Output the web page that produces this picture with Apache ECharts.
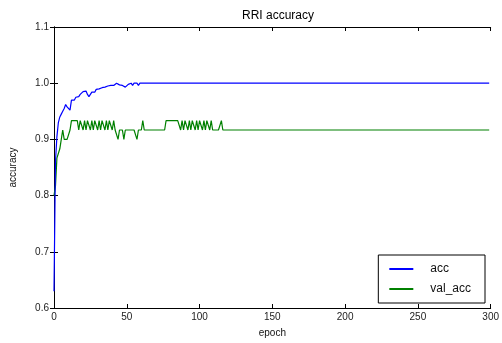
<!DOCTYPE html>
<html><head><meta charset="utf-8">
<script src="https://cdn.jsdelivr.net/npm/echarts@6/dist/echarts.min.js"></script>
<style>html,body{margin:0;padding:0;background:#fff}#c{width:502px;height:343px}</style>
</head><body><div id="c"></div>
<script>
// training accuracy, epochs 0..63 (then plateau)
const accValues = [
0.630, 0.860, 0.905, 0.930, 0.940, 0.945, 0.950, 0.955, 0.962, 0.958,
0.960, 0.952, 0.970, 0.972, 0.970, 0.975, 0.978, 0.976, 0.980, 0.982,
0.985, 0.982, 0.986, 0.980, 0.976, 0.978, 0.984, 0.986, 0.984, 0.989,
0.986, 0.990, 0.988, 0.992, 0.990, 0.993, 0.992, 0.995, 0.993, 0.996,
0.995, 0.996, 0.999, 1.000, 0.998, 0.997, 0.997, 0.996, 0.996, 0.993,
0.994, 0.998, 0.997, 1.000, 0.996, 1.000, 0.997, 1.000, 0.996, 1.000,
0.997, 1.000, 0.998, 1.000
];
// validation accuracy, epochs 0..116 (then plateau)
const valAccValues = [
0.8000, 0.8167, 0.8667, 0.8667, 0.8833, 0.9000, 0.9167, 0.9000, 0.9000, 0.9000,
0.9000, 0.9167, 0.9333, 0.9333, 0.9333, 0.9333, 0.9333, 0.9167, 0.9333, 0.9333,
0.9167, 0.9333, 0.9167, 0.9333, 0.9333, 0.9167, 0.9333, 0.9167, 0.9333, 0.9333,
0.9167, 0.9333, 0.9167, 0.9333, 0.9333, 0.9167, 0.9333, 0.9167, 0.9333, 0.9333,
0.9167, 0.9333, 0.9167, 0.9167, 0.9000, 0.9167, 0.9167, 0.9167, 0.9000, 0.9167,
0.9167, 0.9167, 0.9167, 0.9167, 0.9167, 0.9167, 0.9167, 0.9000, 0.9167, 0.9167,
0.9167, 0.9333, 0.9167, 0.9167, 0.9167, 0.9167, 0.9167, 0.9167, 0.9167, 0.9167,
0.9167, 0.9167, 0.9167, 0.9167, 0.9167, 0.9167, 0.9167, 0.9333, 0.9333, 0.9333,
0.9333, 0.9333, 0.9333, 0.9333, 0.9333, 0.9333, 0.9333, 0.9167, 0.9333, 0.9167,
0.9333, 0.9333, 0.9167, 0.9333, 0.9167, 0.9333, 0.9333, 0.9167, 0.9333, 0.9167,
0.9333, 0.9333, 0.9167, 0.9333, 0.9167, 0.9333, 0.9333, 0.9167, 0.9333, 0.9167,
0.9167, 0.9167, 0.9167, 0.9167, 0.9167, 0.9333, 0.9167
];
const lastEpoch = 299;
const accFinal = 1.0;
const valAccFinal = 0.9167;
const seriesNames = ['acc', 'val_acc'];
const xTicks = [0, 50, 100, 150, 200, 250, 300];
const yTicks = [0.6, 0.7, 0.8, 0.9, 1.0, 1.1];

const toPairs = (vals, finalVal) => vals.map((v, i) => [i, v]).concat([[lastEpoch, finalVal]]);

const font = 'Liberation Sans, Arial, sans-serif';
const tickStyle = {show: true, inside: true, length: 4, lineStyle: {color: '#000', width: 1}};
const chart = echarts.init(document.getElementById('c'), null, {renderer: 'canvas'});
chart.setOption({
  animation: false,
  backgroundColor: '#fff',
  title: {text: 'RRI accuracy', left: 273, textAlign: 'center', top: 5,
    textStyle: {fontFamily: font, fontSize: 12, fontWeight: 'normal', color: '#000'}},
  grid: {left: 53, right: 9, top: 27, bottom: 33},
  legend: {
    data: seriesNames, orient: 'vertical', right: 17, bottom: 40,
    backgroundColor: '#fff', borderColor: '#000', borderWidth: 1,
    padding: [8, 14, 8, 11], itemGap: 8, itemWidth: 24, itemHeight: 2, icon: 'rect',
    textStyle: {fontFamily: font, fontSize: 12, color: '#111', padding: [0, 0, 0, 12]}
  },
  xAxis: [{
    type: 'value', min: xTicks[0], max: xTicks[xTicks.length - 1], interval: 50,
    name: 'epoch', nameLocation: 'middle', nameGap: 20,
    nameTextStyle: {fontFamily: font, fontSize: 10, color: '#111'},
    axisLine: {lineStyle: {color: '#000', width: 1}}, axisTick: tickStyle,
    axisLabel: {fontFamily: font, fontSize: 10, color: '#222', margin: 4},
    splitLine: {show: false}
  }, {
    type: 'value', position: 'top', min: xTicks[0], max: xTicks[xTicks.length - 1], interval: 50,
    axisLine: {lineStyle: {color: '#000', width: 1}}, axisTick: tickStyle,
    axisLabel: {show: false}, splitLine: {show: false}
  }],
  yAxis: [{
    type: 'value', min: yTicks[0], max: yTicks[yTicks.length - 1], interval: 0.1,
    name: 'accuracy', nameLocation: 'middle', nameGap: 36, nameRotate: 90,
    nameTextStyle: {fontFamily: font, fontSize: 10, color: '#111'},
    axisLine: {show: true, lineStyle: {color: '#000', width: 1}}, axisTick: tickStyle,
    axisLabel: {fontFamily: font, fontSize: 10, color: '#222', margin: 5,
      formatter: v => Number(v).toFixed(1)},
    splitLine: {show: false}
  }, {
    type: 'value', position: 'right', min: yTicks[0], max: yTicks[yTicks.length - 1], interval: 0.1,
    axisLine: {show: true, lineStyle: {color: '#000', width: 1}}, axisTick: tickStyle,
    axisLabel: {show: false}, splitLine: {show: false}
  }],
  series: [{
    name: seriesNames[0], type: 'line', data: toPairs(accValues, accFinal),
    symbol: 'none', lineStyle: {color: '#0000ff', width: 1.2}, itemStyle: {color: '#0000ff'}, z: 3
  }, {
    name: seriesNames[1], type: 'line', data: toPairs(valAccValues, valAccFinal),
    symbol: 'none', lineStyle: {color: '#008000', width: 1.2}, itemStyle: {color: '#008000'}, z: 2
  }]
});
</script>
</body></html>
